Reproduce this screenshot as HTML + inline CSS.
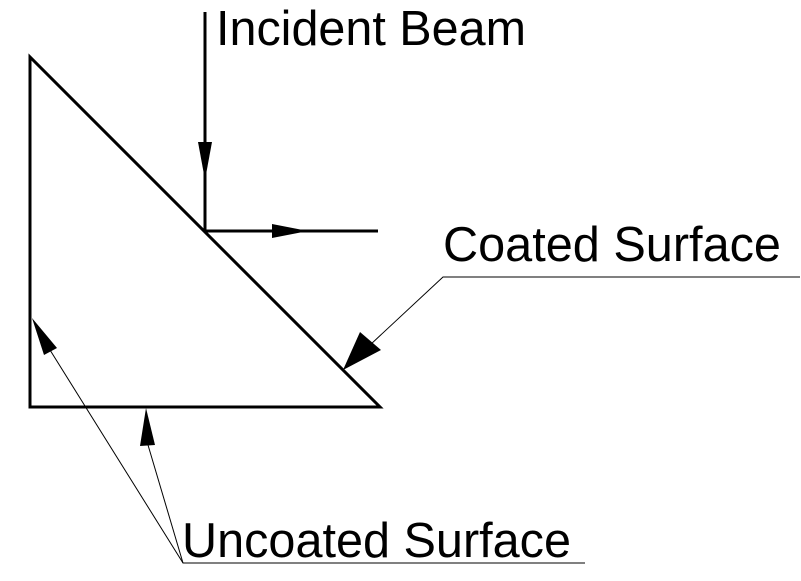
<!DOCTYPE html>
<html><head><style>html,body{margin:0;padding:0;background:#fff}svg{display:block}</style></head>
<body>
<svg width="801" height="581" viewBox="0 0 801 581" xmlns="http://www.w3.org/2000/svg">
<rect width="801" height="581" fill="#fff"/>
<g stroke="#000" stroke-width="3" fill="none">
<polygon points="30,57 30,407 380,407" stroke-linejoin="miter"/>
<line x1="205" y1="12" x2="205" y2="231"/>
<line x1="205" y1="231" x2="378" y2="231"/>
</g>
<g fill="#000">
<polygon points="198,142 212,142 205,180"/>
<polygon points="272,224 272,238 308,231"/>
<polygon points="343,370 360,332 381,350"/>
<polygon points="32,318 57,348 44,355"/>
<polygon points="146,408 155,445 140,446"/>
</g>
<g stroke="#000" stroke-width="1" fill="none">
<polyline points="370,345 443,277 800,277"/>
<polyline points="50,350 183,563 585,563"/>
<line x1="148" y1="445" x2="183" y2="563"/>
</g>
<g font-family="Liberation Sans, sans-serif" font-size="49" fill="#000">
<text x="216" y="45" textLength="310" lengthAdjust="spacingAndGlyphs">Incident Beam</text>
<text x="443" y="261" textLength="338" lengthAdjust="spacingAndGlyphs">Coated Surface</text>
<text x="182" y="557" textLength="389" lengthAdjust="spacingAndGlyphs">Uncoated Surface</text>
</g>
</svg>
</body></html>
